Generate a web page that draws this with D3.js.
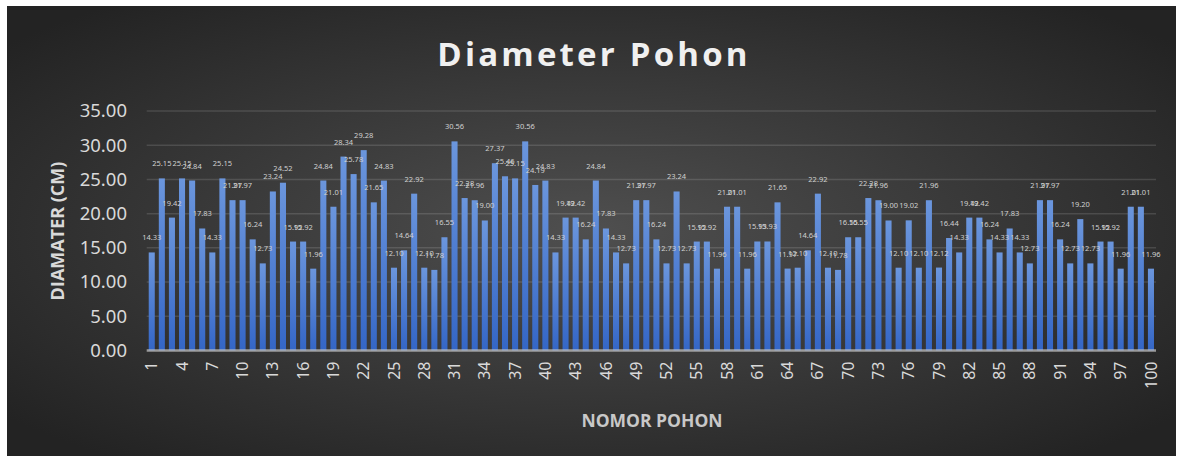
<!DOCTYPE html>
<html><head><meta charset="utf-8">
<script src="https://cdn.jsdelivr.net/npm/d3@7"></script>
<style>html,body{margin:0;padding:0;background:#fff;}svg{display:block;}</style>
</head><body>
<div id="chart"></div>
<script>
const treeIds = d3.range(1, 101);
const diameters = [
14.33,25.15,19.42,25.15,24.84,17.83,14.33,25.15,21.97,21.97,
16.24,12.73,23.24,24.52,15.92,15.92,11.96,24.84,21.01,28.34,
25.78,29.28,21.65,24.83,12.10,14.64,22.92,12.10,11.78,16.55,
30.56,22.28,21.96,19.00,27.37,25.46,25.15,30.56,24.19,24.83,
14.33,19.42,19.42,16.24,24.84,17.83,14.33,12.73,21.97,21.97,
16.24,12.73,23.24,12.73,15.92,15.92,11.96,21.01,21.01,11.96,
15.93,15.93,21.65,11.97,12.10,14.64,22.92,12.10,11.78,16.55,
16.55,22.28,21.96,19.00,12.10,19.02,12.10,21.96,12.12,16.44,
14.33,19.42,19.42,16.24,14.33,17.83,14.33,12.73,21.97,21.97,
16.24,12.73,19.20,12.73,15.92,15.92,11.96,21.01,21.01,11.96];
const yTicks = [0,5,10,15,20,25,30,35];
const xTickLabels = treeIds.filter(d => (d - 1) % 3 === 0);
const titleText = "Diameter Pohon";
const yTitle = "DIAMATER (CM)";
const xTitle = "NOMOR POHON";

const W = 1183, H = 463;
const svg = d3.select("#chart").append("svg").attr("width", W).attr("height", H);
const defs = svg.append("defs");
const bg = defs.append("radialGradient").attr("id","bg").attr("cx","50%").attr("cy","50%").attr("r","65%");
bg.append("stop").attr("offset","0%").attr("stop-color","#4f4f4f");
bg.append("stop").attr("offset","100%").attr("stop-color","#232323");
const bg2 = defs.append("linearGradient").attr("id","bar").attr("x1","0").attr("y1","0").attr("x2","0").attr("y2","1");
bg2.append("stop").attr("offset","0%").attr("stop-color","#6b96dd");
bg2.append("stop").attr("offset","100%").attr("stop-color","#3466c6");

svg.append("rect").attr("x",7).attr("y",6).attr("width",1169).attr("height",450).attr("fill","url(#bg)");

const m = {left:146.7, right:1156, top:111, bottom:350.5};
const x = d3.scaleBand().domain(treeIds).range([m.left, m.right]).paddingInner(0.4).paddingOuter(0.2);
const y = d3.scaleLinear().domain([0,35]).range([m.bottom, m.top]);

// gridlines
svg.append("g").selectAll("line").data(yTicks.filter(t=>t>0)).join("line")
  .attr("x1", m.left).attr("x2", m.right)
  .attr("y1", d=>y(d)).attr("y2", d=>y(d))
  .attr("stroke","rgba(255,255,255,0.13)").attr("stroke-width",1.5);

// y axis labels
const yAxis = d3.axisLeft(y).tickValues(yTicks).tickFormat(d3.format(".2f")).tickSize(0).tickPadding(0);
const gy = svg.append("g").attr("transform",`translate(127,0)`).call(yAxis);
gy.select(".domain").remove();
gy.selectAll("text").attr("fill","#d9d9d9").attr("font-family","'Noto Sans', sans-serif").attr("font-size",18.5);

// bars
svg.append("g").selectAll("rect").data(diameters).join("rect")
  .attr("x",(d,i)=>x(treeIds[i])).attr("width",x.bandwidth())
  .attr("y",d=>y(d)).attr("height",d=>y(0)-y(d))
  .attr("fill","url(#bar)");

// baseline
svg.append("line").attr("x1",m.left).attr("x2",m.right).attr("y1",y(0)).attr("y2",y(0))
  .attr("stroke","rgba(200,200,200,0.7)").attr("stroke-width",2.5);

// data labels
svg.append("g").selectAll("text").data(diameters).join("text")
  .attr("x",(d,i)=>x(treeIds[i]) + x.bandwidth()/2)
  .attr("y",d=>y(d)-12)
  .attr("text-anchor","middle")
  .attr("font-family","'Noto Sans', sans-serif").attr("font-size",7.5)
  .attr("fill","#d0d0d0")
  .text(d=>d3.format(".2f")(d));

// x axis labels
const xAxis = d3.axisBottom(x).tickValues(xTickLabels).tickSize(0).tickPadding(0);
const gx = svg.append("g").attr("transform",`translate(0,${y(0)})`).call(xAxis);
gx.select(".domain").remove();
gx.selectAll("text")
  .attr("transform","rotate(-90)")
  .attr("text-anchor","end")
  .attr("x",-11).attr("y",0).attr("dy","0.35em")
  .attr("fill","#d9d9d9").attr("font-family","'Noto Sans', sans-serif").attr("font-size",16);

// title
svg.append("text").attr("x",594).attr("y",66).attr("text-anchor","middle")
  .attr("font-family","'Open Sans', 'Noto Sans', sans-serif").attr("font-weight","bold")
  .attr("font-size",33).attr("letter-spacing",3.2).attr("fill","#f0f0f0").text(titleText);

// y title
svg.append("text").attr("transform","translate(64,231) rotate(-90)").attr("text-anchor","middle")
  .attr("font-family","'Open Sans', 'Noto Sans', sans-serif").attr("font-weight","bold")
  .attr("font-size",18).attr("fill","#d9d9d9").text(yTitle);

// x title
svg.append("text").attr("x",652).attr("y",427).attr("text-anchor","middle")
  .attr("font-family","'Open Sans', 'Noto Sans', sans-serif").attr("font-weight","bold")
  .attr("font-size",17.5).attr("fill","#c8c8c8").text(xTitle);
</script>
</body></html>
